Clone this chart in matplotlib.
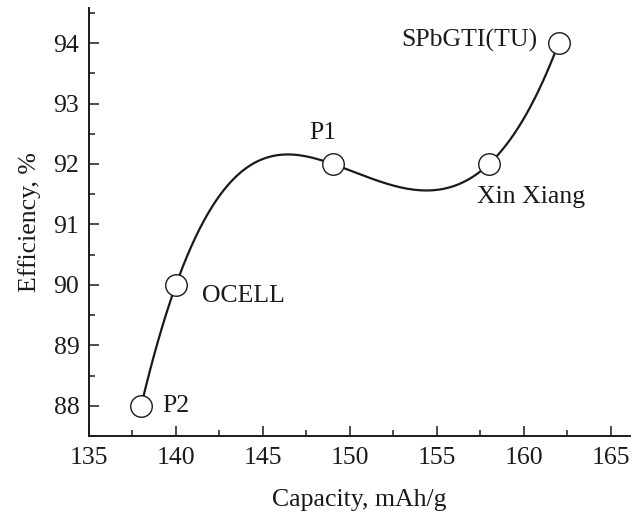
import numpy as np
import matplotlib
matplotlib.use("Agg")
import matplotlib.pyplot as plt
from matplotlib.ticker import MultipleLocator

plt.rcParams["font.family"] = ["Liberation Serif", "DejaVu Serif"]

# Data
capacity = [138, 140, 149, 158, 162]
efficiency = [88, 90, 92, 92, 94]
names = ["P2", "OCELL", "P1", "Xin Xiang", "SPbGTI(TU)"]
# label offsets in points, and alignment
offsets = [(15.5, 0), (18.5, -8.3), (-7, 22), (-8.6, -23.5), (-15, 2)]
aligns = [("left", "center"), ("left", "center"), ("center", "center"),
          ("left", "center"), ("right", "center")]


def spline_line(x, y, num=400):
    # Cubic spline through the points with not-a-knot ends (smooth connecting line)
    x = np.asarray(x, dtype=float)
    y = np.asarray(y, dtype=float)
    n = x.size
    h = np.diff(x)
    A = np.zeros((n, n))
    b = np.zeros(n)
    for i in range(1, n - 1):
        A[i, i - 1] = h[i - 1]
        A[i, i] = 2 * (h[i - 1] + h[i])
        A[i, i + 1] = h[i]
        b[i] = 3 * ((y[i + 1] - y[i]) / h[i] - (y[i] - y[i - 1]) / h[i - 1])
    A[0, 0:3] = [h[1], -(h[0] + h[1]), h[0]]
    A[-1, -3:] = [h[-1], -(h[-2] + h[-1]), h[-2]]
    c = np.linalg.solve(A, b)
    xs = np.linspace(x[0], x[-1], num)
    ys = np.empty_like(xs)
    for k, xv in enumerate(xs):
        i = min(np.searchsorted(x, xv, side="right") - 1, n - 2)
        dx = xv - x[i]
        bi = (y[i + 1] - y[i]) / h[i] - h[i] * (2 * c[i] + c[i + 1]) / 3
        di = (c[i + 1] - c[i]) / (3 * h[i])
        ys[k] = y[i] + bi * dx + c[i] * dx ** 2 + di * dx ** 3
    return xs, ys


fig = plt.figure(figsize=(6.43, 5.15), dpi=100)
ax = fig.add_axes([0.1384, 0.1534, 0.8414, 0.8311])

xs, ys = spline_line(capacity, efficiency)
ax.plot(xs, ys, color="#1a1a1a", linewidth=1.6, zorder=2)
ax.plot(capacity, efficiency, linestyle="none", marker="o", markersize=15.5,
        markerfacecolor="white", markeredgecolor="#1a1a1a", markeredgewidth=1.0, zorder=3)

for cx, ey, name, off, al in zip(capacity, efficiency, names, offsets, aligns):
    ax.annotate(name, (cx, ey), xytext=off, textcoords="offset points",
                ha=al[0], va=al[1], fontsize=18.5, color="#1a1a1a")

ax.set_xlim(135, 166.1)
ax.set_ylim(87.5, 94.58)
ax.xaxis.set_major_locator(MultipleLocator(5))
ax.xaxis.set_minor_locator(MultipleLocator(2.5))
ax.yaxis.set_major_locator(MultipleLocator(1))
ax.yaxis.set_minor_locator(MultipleLocator(0.5))

ax.spines["top"].set_visible(False)
ax.spines["right"].set_visible(False)
for s in ("left", "bottom"):
    ax.spines[s].set_linewidth(1.4)
    ax.spines[s].set_color("#1a1a1a")

ax.tick_params(which="both", direction="in", labelsize=18.5, width=1.1,
               color="#1a1a1a", labelcolor="#1a1a1a")
ax.tick_params(which="major", length=7)
ax.tick_params(which="minor", length=4)
ax.tick_params(axis="x", pad=8)
ax.tick_params(axis="y", pad=7)

ax.set_xlabel("Capacity, mAh/g", fontsize=18.5, labelpad=14, color="#1a1a1a")
ax.set_ylabel("Efficiency, %", fontsize=18.5, labelpad=9, color="#1a1a1a")

fig.savefig("out.png", dpi=100)
